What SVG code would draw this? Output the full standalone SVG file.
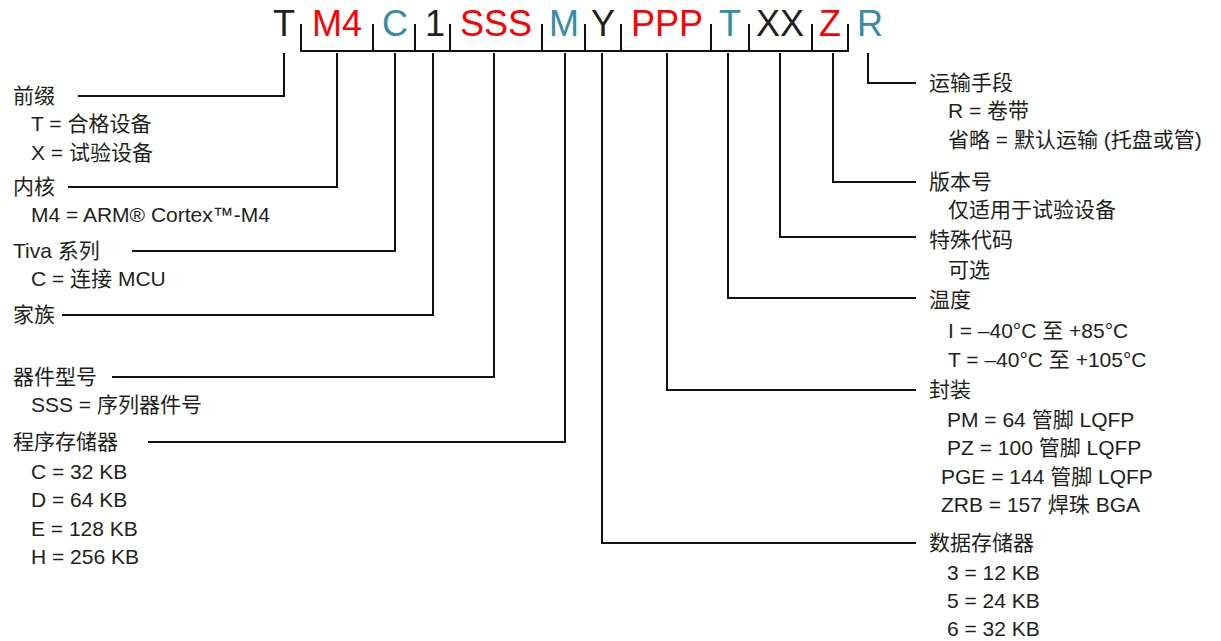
<svg xmlns="http://www.w3.org/2000/svg" width="1221" height="641" viewBox="0 0 1221 641">
<style>
text{font-family:"Liberation Sans","Noto Sans CJK SC",sans-serif;fill:#231f20}
.h{font-size:36px;text-anchor:middle}
.k{fill:#231f20}.r{fill:#ff0000}.b{fill:#368ca5}
.t{font-size:21px}
.c{fill:none;stroke:#111;stroke-width:2}
</style>
<rect width="1221" height="641" fill="#fff"/>
<g id="code">
<text class="h k" x="284" y="36">T</text>
<text class="h r" x="337" y="36">M4</text>
<text class="h b" x="395" y="36">C</text>
<text class="h k" x="435" y="36">1</text>
<text class="h r" x="496" y="36">SSS</text>
<text class="h b" x="564" y="36">M</text>
<text class="h k" x="603" y="36">Y</text>
<text class="h r" x="667" y="36">PPP</text>
<text class="h b" x="730" y="36">T</text>
<text class="h k" x="780" y="36">XX</text>
<text class="h r" x="830" y="36">Z</text>
<text class="h b" x="870" y="36">R</text>
</g>
<g id="connectors" class="c">
<path d="M301,24V51H848V24M373,24V51M415,24V51M450,24V51M542,24V51M585,24V51M621,24V51M711,24V51M749,24V51M812,24V51"/>
<path d="M284,53V96H78"/>
<path d="M337,53V187H68"/>
<path d="M395,53V251H132"/>
<path d="M433,53V315H62"/>
<path d="M494,53V377H112"/>
<path d="M565,53V442H148"/>
<path d="M602,53V543H916"/>
<path d="M667,53V390H916"/>
<path d="M728,53V298H916"/>
<path d="M780,53V237H916"/>
<path d="M833,53V182H916"/>
<path d="M868,53V83H916"/>
</g>
<g id="prefix" class="t">
<text x="13" y="103">前缀</text>
<text x="31" y="131">T = 合格设备</text>
<text x="31" y="160">X = 试验设备</text>
</g>
<g id="core" class="t">
<text x="13" y="194">内核</text>
<text x="31" y="222">M4 = ARM® Cortex™-M4</text>
</g>
<g id="series" class="t">
<text x="13" y="258">Tiva 系列</text>
<text x="31" y="286">C = 连接 MCU</text>
</g>
<g id="family" class="t">
<text x="13" y="322">家族</text>
</g>
<g id="part" class="t">
<text x="13" y="384">器件型号</text>
<text x="31" y="412">SSS = 序列器件号</text>
</g>
<g id="flash" class="t">
<text x="13" y="449">程序存储器</text>
<text x="31" y="479">C = 32 KB</text>
<text x="31" y="507">D = 64 KB</text>
<text x="31" y="536">E = 128 KB</text>
<text x="31" y="564">H = 256 KB</text>
</g>
<g id="shipping" class="t">
<text x="929" y="90">运输手段</text>
<text x="948" y="118">R = 卷带</text>
<text x="948" y="147">省略 = 默认运输 (托盘或管)</text>
</g>
<g id="revision" class="t">
<text x="929" y="189">版本号</text>
<text x="948" y="217">仅适用于试验设备</text>
</g>
<g id="special" class="t">
<text x="929" y="247">特殊代码</text>
<text x="948" y="277">可选</text>
</g>
<g id="temp" class="t">
<text x="929" y="307">温度</text>
<text x="948" y="338">I = –40°C 至 +85°C</text>
<text x="948" y="367">T = –40°C 至 +105°C</text>
</g>
<g id="package" class="t">
<text x="929" y="397">封装</text>
<text x="947" y="427">PM = 64 管脚 LQFP</text>
<text x="947" y="455">PZ = 100 管脚 LQFP</text>
<text x="941" y="484">PGE = 144 管脚 LQFP</text>
<text x="941" y="512">ZRB = 157 焊珠 BGA</text>
</g>
<g id="sram" class="t">
<text x="929" y="550">数据存储器</text>
<text x="947" y="580">3 = 12 KB</text>
<text x="947" y="608">5 = 24 KB</text>
<text x="947" y="636">6 = 32 KB</text>
</g>
</svg>
